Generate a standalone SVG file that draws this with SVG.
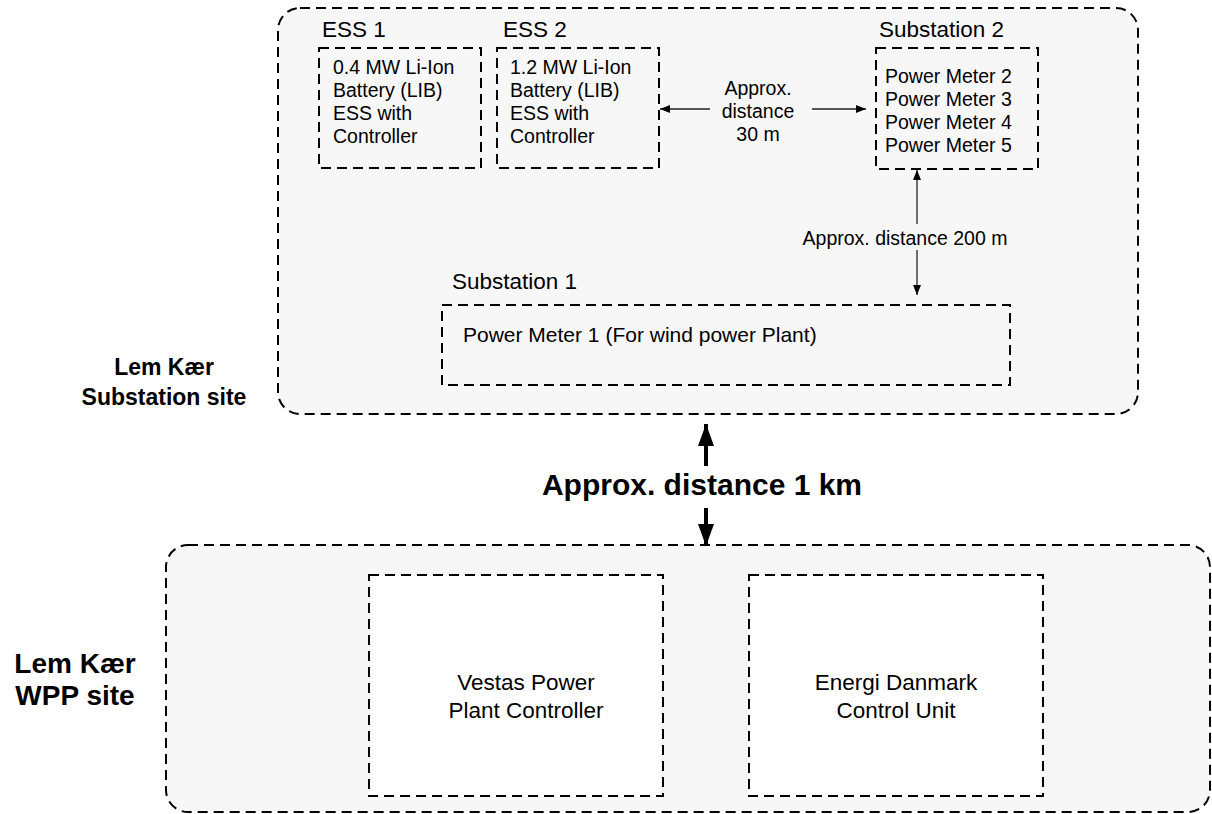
<svg xmlns="http://www.w3.org/2000/svg" width="1212" height="814" viewBox="0 0 1212 814">
<defs>
<style>
.cont{fill:#f7f7f7;stroke:#000;stroke-width:2;stroke-dasharray:10 6}
.box{fill:#f7f7f7;stroke:#000;stroke-width:2;stroke-dasharray:10 6}
.wbox{fill:#fff;stroke:#000;stroke-width:2;stroke-dasharray:10 6}
text{font-family:"Liberation Sans",Arial,sans-serif;fill:#000}
.t{font-size:19.5px}
.t2{font-size:21px}
.lbl{font-size:22.5px}
.big{font-size:22.5px}
.site{font-size:23px;font-weight:bold}
.site2{font-size:28px;font-weight:bold}
.km{font-size:30px;font-weight:bold}
.thin{stroke:#222;stroke-width:1.3;fill:none}
.bold{stroke:#000;stroke-width:4;fill:none}
</style>
<marker id="ah" viewBox="0 0 10 8" refX="10" refY="4" markerWidth="10" markerHeight="8" markerUnits="userSpaceOnUse" orient="auto">
<path d="M0,0 L10,4 L0,8 z" fill="#000"/>
</marker>
<marker id="ahb" viewBox="0 0 22 16" refX="22" refY="8" markerWidth="22" markerHeight="16" markerUnits="userSpaceOnUse" orient="auto">
<path d="M0,0 L22,8 L0,16 z" fill="#000"/>
</marker>
</defs>

<g id="substation-site">
<rect class="cont" x="278" y="8" width="860" height="406" rx="22" ry="22"/>
<text class="site" x="164" y="375" text-anchor="middle">Lem Kær</text>
<text class="site" x="164" y="405" text-anchor="middle">Substation site</text>
</g>

<g id="wpp-site">
<rect class="cont" x="166" y="545" width="1044" height="267" rx="22" ry="22"/>
<text class="site2" x="75" y="673" text-anchor="middle">Lem Kær</text>
<text class="site2" x="75" y="705" text-anchor="middle">WPP site</text>
</g>

<g id="ess1">
<text class="lbl" x="322" y="37">ESS 1</text>
<rect class="box" x="319" y="48" width="162" height="120"/>
<text class="t" x="333" y="74">0.4 MW Li-Ion</text>
<text class="t" x="333" y="97">Battery (LIB)</text>
<text class="t" x="333" y="120">ESS with</text>
<text class="t" x="333" y="143">Controller</text>
</g>

<g id="ess2">
<text class="lbl" x="503" y="37">ESS 2</text>
<rect class="box" x="497" y="48" width="162" height="120"/>
<text class="t" x="510" y="74">1.2 MW Li-Ion</text>
<text class="t" x="510" y="97">Battery (LIB)</text>
<text class="t" x="510" y="120">ESS with</text>
<text class="t" x="510" y="143">Controller</text>
</g>

<g id="substation2">
<text class="lbl" x="879" y="37">Substation 2</text>
<rect class="box" x="876" y="48" width="162" height="121"/>
<text class="t" x="885" y="83">Power Meter 2</text>
<text class="t" x="885" y="106">Power Meter 3</text>
<text class="t" x="885" y="129">Power Meter 4</text>
<text class="t" x="885" y="152">Power Meter 5</text>
</g>

<g id="substation1">
<text class="lbl" x="452" y="289">Substation 1</text>
<rect class="box" x="442" y="305" width="568" height="80"/>
<text class="t2" x="463" y="342">Power Meter 1 (For wind power Plant)</text>
</g>

<g id="vestas">
<rect class="wbox" x="369" y="575" width="294" height="221"/>
<text class="big" x="526" y="690" text-anchor="middle">Vestas Power</text>
<text class="big" x="526" y="718" text-anchor="middle">Plant Controller</text>
</g>

<g id="energi">
<rect class="wbox" x="749" y="575" width="294" height="221"/>
<text class="big" x="896" y="690" text-anchor="middle">Energi Danmark</text>
<text class="big" x="896" y="718" text-anchor="middle">Control Unit</text>
</g>

<g id="connectors">
<line class="thin" x1="710" y1="109" x2="660" y2="109" marker-end="url(#ah)"/>
<line class="thin" x1="812" y1="109" x2="866" y2="109" marker-end="url(#ah)"/>
<text class="t" x="758" y="95" text-anchor="middle">Approx.</text>
<text class="t" x="758" y="118" text-anchor="middle">distance</text>
<text class="t" x="758" y="141" text-anchor="middle">30 m</text>

<line class="thin" x1="917" y1="224" x2="917" y2="170" marker-end="url(#ah)"/>
<line class="thin" x1="917" y1="250" x2="917" y2="295" marker-end="url(#ah)"/>
<text class="t" x="905" y="245" text-anchor="middle">Approx. distance 200 m</text>

<line class="bold" x1="706" y1="466" x2="706" y2="424" marker-end="url(#ahb)"/>
<line class="bold" x1="706" y1="508" x2="706" y2="546" marker-end="url(#ahb)"/>
<text class="km" x="702" y="495" text-anchor="middle">Approx. distance 1 km</text>
</g>
</svg>
